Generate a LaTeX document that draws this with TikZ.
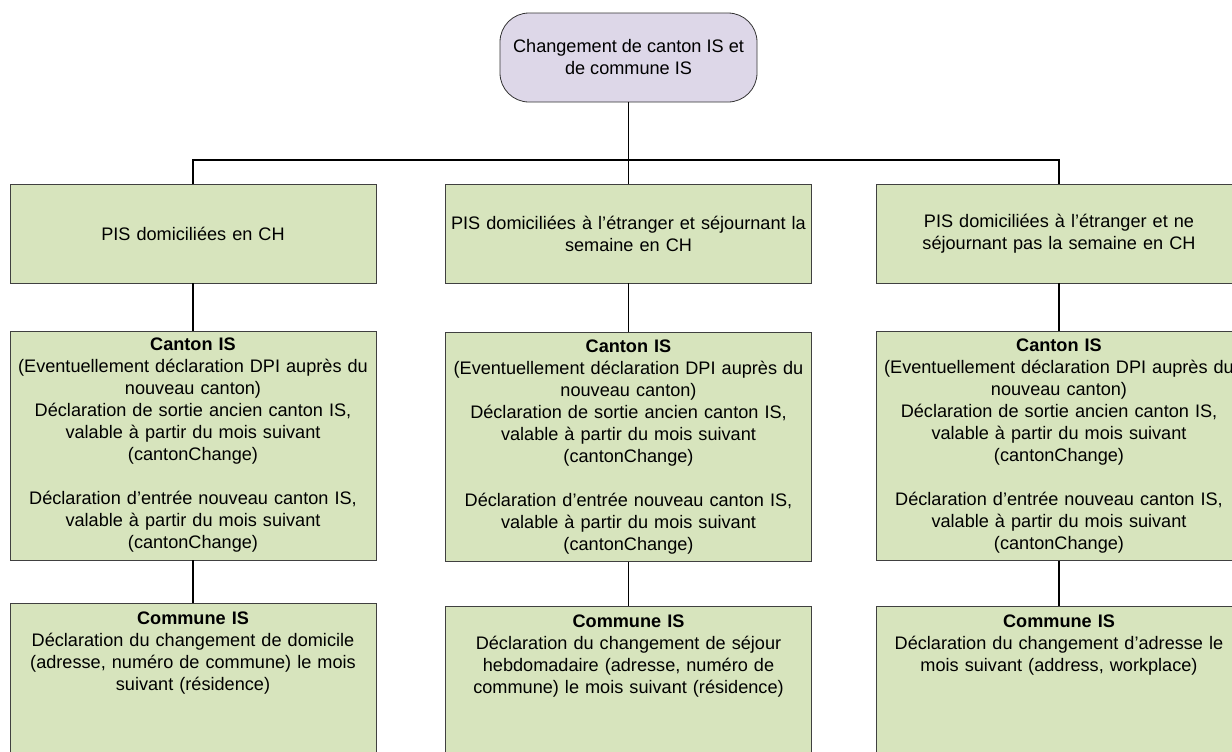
\documentclass[tikz,border=0pt]{standalone}
\usepackage{fontspec}
\setmainfont{Liberation Sans}
\usetikzlibrary{positioning}

\definecolor{boxgreen}{HTML}{D7E4BD}
\definecolor{startlilac}{HTML}{DDD7E8}

\tikzset{
    txt/.style={font=\fontsize{13.6}{16.5}\selectfont},
    stepbox/.style={txt, rectangle, draw=black!75, fill=boxgreen, line width=0.6pt,
        text width=272.5pt, align=center, inner xsep=1pt, inner ysep=3pt, minimum width=274.5pt},
    lowbox/.style={stepbox, anchor=north, inner ysep=6pt, text depth=135pt},
    startnode/.style={txt, rectangle, rounded corners=21.75pt, draw=black!80, fill=startlilac,
        line width=0.6pt, minimum width=192.75pt, minimum height=66.75pt, align=center},
    link/.style={line width=0.9pt, black}
}

\begin{document}
\begin{tikzpicture}[x=0.75pt, y=-0.75pt]
    \useasboundingbox (0,0) rectangle (1232,751);
    \clip (0,0) rectangle (1232,751);

    % Start node
    \node[startnode] (top) at (628.5, 57.5) {Changement de canton IS et\\de commune IS};

    % First row: the three groups of persons
    \node[stepbox, minimum height=74.25pt] (pisCH) at (193, 233.5) {PIS domiciliées en CH};
    \node[stepbox, minimum height=74.25pt] (pisETR) at (628.5, 233.5) {PIS domiciliées à l’étranger et séjournant la\\semaine en CH};
    \node[stepbox, minimum height=74.25pt] (pisNS) at (1059, 233.5) {PIS domiciliées à l’étranger et ne\\séjournant pas la semaine en CH};

    % Second row: canton IS
    \node[stepbox, minimum height=171.75pt] (canCH) at (193, 445.5) {\textbf{Canton IS}\\(Eventuellement déclaration DPI auprès du\\nouveau canton)\\Déclaration de sortie ancien canton IS,\\valable à partir du mois suivant\\(cantonChange)\\[16.5pt]Déclaration d’entrée nouveau canton IS,\\valable à partir du mois suivant\\(cantonChange)};
    \node[stepbox, minimum height=171.75pt] (canETR) at (628.5, 447) {\textbf{Canton IS}\\(Eventuellement déclaration DPI auprès du\\nouveau canton)\\Déclaration de sortie ancien canton IS,\\valable à partir du mois suivant\\(cantonChange)\\[16.5pt]Déclaration d’entrée nouveau canton IS,\\valable à partir du mois suivant\\(cantonChange)};
    \node[stepbox, minimum height=171.75pt] (canNS) at (1059, 446) {\textbf{Canton IS}\\(Eventuellement déclaration DPI auprès du\\nouveau canton)\\Déclaration de sortie ancien canton IS,\\valable à partir du mois suivant\\(cantonChange)\\[16.5pt]Déclaration d’entrée nouveau canton IS,\\valable à partir du mois suivant\\(cantonChange)};

    % Third row: commune IS
    \node[lowbox] (comCH) at (193, 603) {\textbf{Commune IS}\\Déclaration du changement de domicile\\(adresse, numéro de commune) le mois\\suivant (résidence)};
    \node[lowbox] (comETR) at (628.5, 606) {\textbf{Commune IS}\\Déclaration du changement de séjour\\hebdomadaire (adresse, numéro de\\commune) le mois suivant (résidence)};
    \node[lowbox] (comNS) at (1059, 606) {\textbf{Commune IS}\\Déclaration du changement d’adresse le\\mois suivant (address, workplace)};

    % Bus line below the start node
    \coordinate (bus) at (628.5, 160);

    % Draw edges
    \draw[link] (top) -- (pisETR);
    \draw[link] (pisCH.north) |- (bus) -| (pisNS.north);
    \draw[link] (pisCH) -- (canCH);
    \draw[link] (pisETR) -- (canETR);
    \draw[link] (pisNS) -- (canNS);
    \draw[link] (canCH) -- (comCH);
    \draw[link] (canETR) -- (comETR);
    \draw[link] (canNS) -- (comNS);
\end{tikzpicture}
\end{document}
